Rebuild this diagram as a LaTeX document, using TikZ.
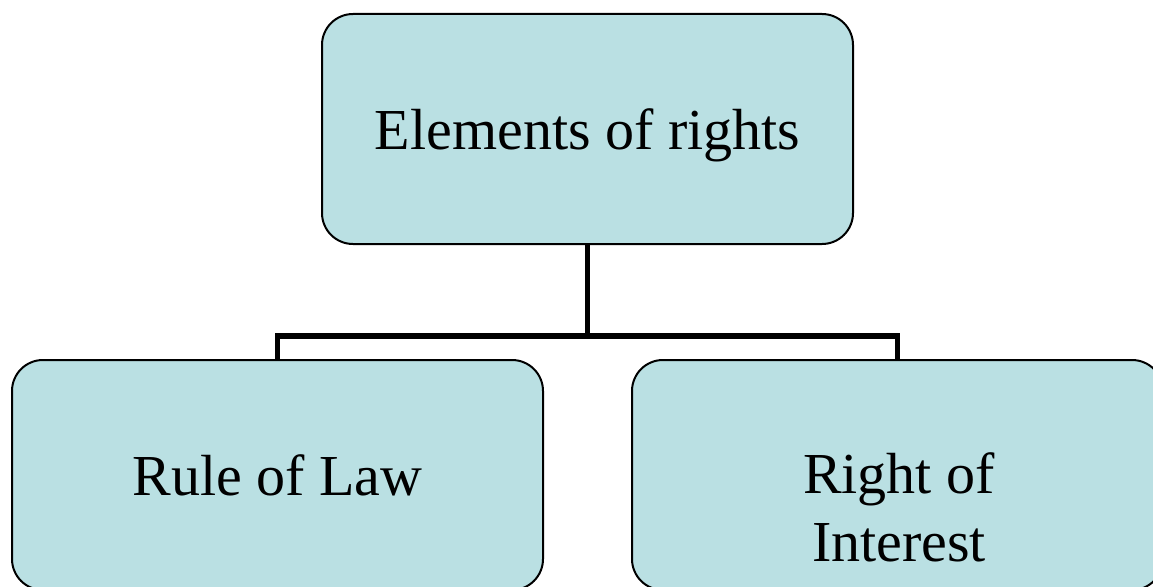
\documentclass[tikz,border=0pt]{standalone}
\usepackage{fontspec}
\setmainfont{Liberation Serif}
\definecolor{boxfill}{RGB}{186,224,227}
\begin{document}
\begin{tikzpicture}[x=1pt,y=-1pt,
  box/.style={draw=black, line width=2pt, fill=boxfill, rounded corners=31pt,
    minimum width=531pt, minimum height=230pt, inner sep=0pt},
  boxtext/.style={inner sep=0pt, anchor=base, align=center,
    font=\fontsize{58}{68}\selectfont},
  link/.style={draw=black, line width=5.5pt, line join=miter}]
\useasboundingbox (0,0) rectangle (1153,586);
\clip (0,0) rectangle (1153,586);
% boxes
\node[box] (root) at (587.5,129) {};
\node[box] (law) at (277.5,475) {};
\node[box] (interest) at (897.5,475) {};
% texts
\node[boxtext] (rootText) at (587.5,149) {Elements of rights};
\node[boxtext] (lawText) at (277.5,495) {Rule of Law};
\node[boxtext, anchor=center] (interestText) at (899,507) {Right of\\Interest};
% connectors
\coordinate (fork) at (587.5,336);
\draw[link] (root.south) -- (fork);
\draw[link] (law.north) |- (fork) -| (interest.north);
\end{tikzpicture}
\end{document}
